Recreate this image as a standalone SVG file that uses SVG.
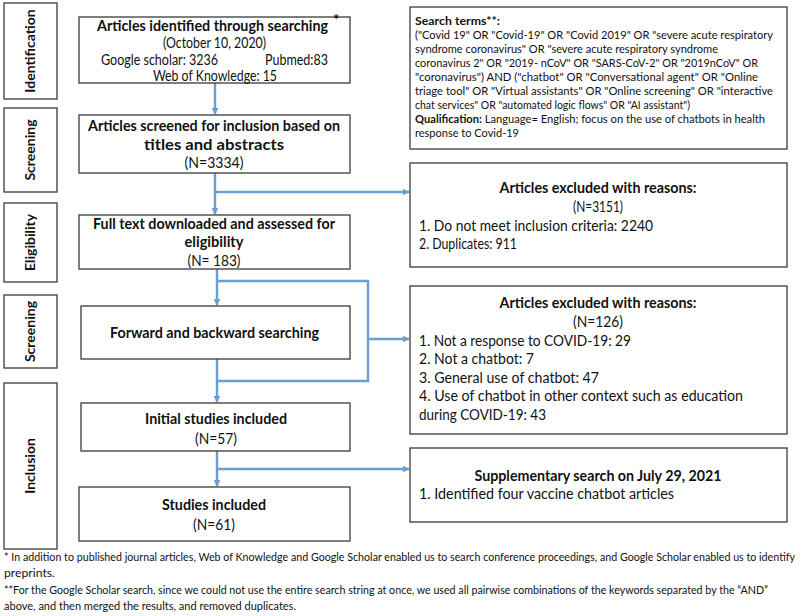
<svg xmlns="http://www.w3.org/2000/svg" width="800" height="616" viewBox="0 0 800 616">
<defs>
<style>
.box{fill:#fff;stroke:#3a3a3a;stroke-width:1.3}
.t{font-family:Lato,"Liberation Sans",sans-serif;font-size:14.8px;fill:#111}
.b{font-weight:bold}
.c{text-anchor:middle}
.s{font-family:Lato,"Liberation Sans",sans-serif;font-size:11.8px;fill:#111}
.f{font-family:Lato,"Liberation Sans",sans-serif;font-size:10.6px;fill:#111}
.side{font-family:Lato,"Liberation Sans",sans-serif;font-size:14px;font-weight:bold;fill:#111;text-anchor:middle}
.con{fill:none;stroke:#6a9fd0;stroke-width:2.4}
</style>
<marker id="ah" viewBox="0 0 10 10" refX="9" refY="5" markerWidth="3" markerHeight="3" orient="auto" markerUnits="strokeWidth">
<path d="M0,0 L10,5 L0,10 z" fill="#6a9fd0"/>
</marker>
</defs>
<rect width="800" height="616" fill="#fff"/>

<g id="side-labels">
<g id="side-identification"><rect class="box" x="4" y="3" width="53" height="96"/><text class="side" transform="translate(35,51) rotate(-90)">Identification</text></g>
<g id="side-screening1"><rect class="box" x="4" y="108" width="53" height="84"/><text class="side" transform="translate(35,150) rotate(-90)">Screening</text></g>
<g id="side-eligibility"><rect class="box" x="4" y="203" width="53" height="79"/><text class="side" transform="translate(35,242.5) rotate(-90)">Eligibility</text></g>
<g id="side-screening2"><rect class="box" x="4" y="295" width="53" height="73"/><text class="side" transform="translate(35,331.5) rotate(-90)">Screening</text></g>
<g id="side-inclusion"><rect class="box" x="4" y="383" width="53" height="166"/><text class="side" transform="translate(35,466) rotate(-90)">Inclusion</text></g>
</g>

<g id="connectors">
<line class="con" x1="215" y1="83" x2="215" y2="114" marker-end="url(#ah)"/>
<line class="con" x1="215" y1="173" x2="215" y2="214" marker-end="url(#ah)"/>
<line class="con" x1="215" y1="192" x2="409" y2="192" marker-end="url(#ah)"/>
<line class="con" x1="217" y1="269" x2="217" y2="305" marker-end="url(#ah)"/>
<polyline class="con" points="217,281 368,281 368,381 217,381"/>
<line class="con" x1="368" y1="339" x2="409" y2="339" marker-end="url(#ah)"/>
<line class="con" x1="217" y1="359" x2="217" y2="402" marker-end="url(#ah)"/>
<line class="con" x1="217" y1="451" x2="217" y2="486" marker-end="url(#ah)"/>
<line class="con" x1="217" y1="469" x2="409" y2="469" marker-end="url(#ah)"/>
</g>

<g id="node-identified">
<rect class="box" x="79" y="17" width="271" height="66"/>
<text class="t b" x="97" y="31" font-size="13.5" textLength="231" lengthAdjust="spacingAndGlyphs">Articles identified through searching</text>
<text class="t b" x="333" y="25" font-size="8">*</text>
<text class="t c" x="214.5" y="48" textLength="103" lengthAdjust="spacingAndGlyphs">(October 10, 2020)</text>
<text class="t" x="101" y="65" textLength="117" lengthAdjust="spacingAndGlyphs">Google scholar: 3236</text>
<text class="t" x="265" y="65" textLength="63" lengthAdjust="spacingAndGlyphs">Pubmed:83</text>
<text class="t c" x="215" y="81" textLength="124" lengthAdjust="spacingAndGlyphs">Web of Knowledge: 15</text>
</g>

<g id="node-screened">
<rect class="box" x="79" y="115" width="271" height="58"/>
<text class="t b" x="88" y="131" textLength="252" lengthAdjust="spacingAndGlyphs">Articles screened for inclusion based on</text>
<text class="t b c" x="214" y="150" textLength="140" lengthAdjust="spacingAndGlyphs">titles and abstracts</text>
<text class="t c" x="214" y="168" textLength="59" lengthAdjust="spacingAndGlyphs">(N=3334)</text>
</g>

<g id="node-fulltext">
<rect class="box" x="79" y="215" width="271" height="54"/>
<text class="t b" x="93" y="229" textLength="242" lengthAdjust="spacingAndGlyphs">Full text downloaded and assessed for</text>
<text class="t b c" x="214" y="247" textLength="59" lengthAdjust="spacingAndGlyphs">eligibility</text>
<text class="t c" x="214" y="266" textLength="53" lengthAdjust="spacingAndGlyphs">(N= 183)</text>
</g>

<g id="node-forward">
<rect class="box" x="81" y="306" width="269" height="53"/>
<text class="t b" x="110" y="338" textLength="209" lengthAdjust="spacingAndGlyphs">Forward and backward searching</text>
</g>

<g id="node-initial">
<rect class="box" x="81" y="403" width="269" height="48"/>
<text class="t b c" x="216" y="424" textLength="142" lengthAdjust="spacingAndGlyphs">Initial studies included</text>
<text class="t c" x="216" y="444" textLength="42" lengthAdjust="spacingAndGlyphs">(N=57)</text>
</g>

<g id="node-studies">
<rect class="box" x="79" y="487" width="271" height="54"/>
<text class="t b c" x="214" y="510" textLength="104" lengthAdjust="spacingAndGlyphs">Studies included</text>
<text class="t c" x="214" y="530" textLength="42" lengthAdjust="spacingAndGlyphs">(N=61)</text>
</g>

<g id="node-search-terms">
<rect class="box" x="410" y="7" width="377" height="142"/>
<text class="s b" x="415" y="25" textLength="85" lengthAdjust="spacingAndGlyphs">Search terms**:</text>
<text class="s" x="415" y="39" textLength="358" lengthAdjust="spacingAndGlyphs">("Covid 19" OR "Covid-19" OR "Covid 2019" OR "severe acute respiratory</text>
<text class="s" x="415" y="53" textLength="303" lengthAdjust="spacingAndGlyphs">syndrome coronavirus" OR "severe acute respiratory syndrome</text>
<text class="s" x="415" y="67" textLength="343" lengthAdjust="spacingAndGlyphs">coronavirus 2" OR "2019- nCoV" OR "SARS-CoV-2" OR "2019nCoV" OR</text>
<text class="s" x="415" y="81" textLength="343" lengthAdjust="spacingAndGlyphs">"coronavirus") AND ("chatbot" OR "Conversational agent" OR "Online</text>
<text class="s" x="415" y="95" textLength="358" lengthAdjust="spacingAndGlyphs">triage tool" OR "Virtual assistants" OR "Online screening" OR "interactive</text>
<text class="s" x="415" y="109" textLength="275" lengthAdjust="spacingAndGlyphs">chat services" OR "automated logic flows" OR "AI assistant")</text>
<text class="s" x="415" y="123" textLength="350" lengthAdjust="spacingAndGlyphs"><tspan font-weight="bold">Qualification:</tspan> Language= English; focus on the use of chatbots in health</text>
<text class="s" x="415" y="137" textLength="104" lengthAdjust="spacingAndGlyphs">response to Covid-19</text>
</g>

<g id="node-excluded1">
<rect class="box" x="410" y="163" width="377" height="104"/>
<text class="t b c" x="598" y="193" textLength="197" lengthAdjust="spacingAndGlyphs">Articles excluded with reasons:</text>
<text class="t c" x="598" y="212" textLength="50" lengthAdjust="spacingAndGlyphs">(N=3151)</text>
<text class="t" x="419" y="231" textLength="234" lengthAdjust="spacingAndGlyphs">1. Do not meet inclusion criteria: 2240</text>
<text class="t" x="419" y="249" textLength="98" lengthAdjust="spacingAndGlyphs">2. Duplicates: 911</text>
</g>

<g id="node-excluded2">
<rect class="box" x="410" y="286" width="377" height="148"/>
<text class="t b c" x="598" y="308" textLength="197" lengthAdjust="spacingAndGlyphs">Articles excluded with reasons:</text>
<text class="t c" x="598" y="327" textLength="50" lengthAdjust="spacingAndGlyphs">(N=126)</text>
<text class="t" x="419" y="346" textLength="212" lengthAdjust="spacingAndGlyphs">1. Not a response to COVID-19: 29</text>
<text class="t" x="419" y="364" textLength="115" lengthAdjust="spacingAndGlyphs">2. Not a chatbot: 7</text>
<text class="t" x="419" y="383" textLength="180" lengthAdjust="spacingAndGlyphs">3. General use of chatbot: 47</text>
<text class="t" x="419" y="401" textLength="324" lengthAdjust="spacingAndGlyphs">4. Use of chatbot in other context such as education</text>
<text class="t" x="419" y="420" textLength="127" lengthAdjust="spacingAndGlyphs">during COVID-19: 43</text>
</g>

<g id="node-supplementary">
<rect class="box" x="410" y="448" width="377" height="74"/>
<text class="t b c" x="598" y="481" textLength="247" lengthAdjust="spacingAndGlyphs">Supplementary search on July 29, 2021</text>
<text class="t" x="419" y="499" textLength="255" lengthAdjust="spacingAndGlyphs">1. Identified four vaccine chatbot articles</text>
</g>

<g id="footnotes">
<text class="f" x="4" y="561" textLength="791" lengthAdjust="spacingAndGlyphs">* In addition to published journal articles, Web of Knowledge and Google Scholar enabled us to search conference proceedings, and Google Scholar enabled us to identify</text>
<text class="f" x="4" y="577" textLength="51" lengthAdjust="spacingAndGlyphs">preprints.</text>
<text class="f" x="4" y="594" textLength="764" lengthAdjust="spacingAndGlyphs">**For the Google Scholar search, since we could not use the entire search string at once, we used all pairwise combinations of the keywords separated by the “AND”</text>
<text class="f" x="4" y="610" textLength="292" lengthAdjust="spacingAndGlyphs">above, and then merged the results, and removed duplicates.</text>
</g>
</svg>
